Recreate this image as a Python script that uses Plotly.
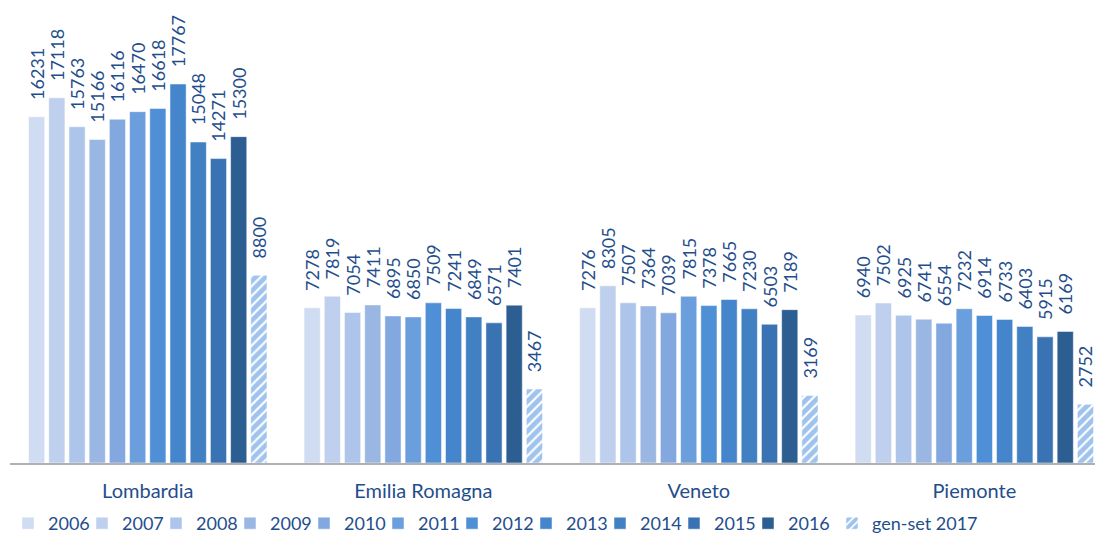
import plotly.graph_objects as go

regions = ["Lombardia", "Emilia Romagna", "Veneto", "Piemonte"]
series_names = ["2006", "2007", "2008", "2009", "2010", "2011", "2012",
                "2013", "2014", "2015", "2016", "gen-set 2017"]
values = {
    "2006": [16231, 7278, 7276, 6940],
    "2007": [17118, 7819, 8305, 7502],
    "2008": [15763, 7054, 7507, 6925],
    "2009": [15166, 7411, 7364, 6741],
    "2010": [16116, 6895, 7039, 6554],
    "2011": [16470, 6850, 7815, 7232],
    "2012": [16618, 7509, 7378, 6914],
    "2013": [17767, 7241, 7665, 6733],
    "2014": [15048, 6849, 7230, 6403],
    "2015": [14271, 6571, 6503, 5915],
    "2016": [15300, 7401, 7189, 6169],
    "gen-set 2017": [8800, 3467, 3169, 2752],
}
colors = ["#D0DCF1", "#BFD0EE", "#ADC5EA", "#9AB7E3", "#82A8DF", "#6A9EDD",
          "#4F8FD6", "#4585CB", "#4180C3", "#3A73B4", "#2D5E92", "#3F88DC"]

TXT = "#1F4E8C"
FONT = "Lato"
PAD = "\u00a0\u00a0\u00a0"

FIG_W, FIG_H = 1087, 534
M_L = 2
PLOT_W = FIG_W - M_L

# legend entry text start positions (page px), one legend per entry
legend_text_x = [48 + 74 * i for i in range(11)] + [872]

fig = go.Figure()
layout_legends = {}
for i, (name, col) in enumerate(zip(series_names, colors)):
    vals = values[name]
    hatched = name == "gen-set 2017"
    if hatched:
        marker = dict(color="white", line=dict(color="white", width=0.5),
                      pattern=dict(shape="/", fgcolor=col, bgcolor="white",
                                   size=7, solidity=0.7))
    else:
        marker = dict(color=col, line=dict(color="white", width=0.5))
    lkey = "legend" if i == 0 else f"legend{i + 1}"
    fig.add_trace(go.Bar(
        name=name, x=regions, y=vals, marker=marker,
        text=[PAD + str(v) for v in vals], textposition="outside",
        textangle=-90, constraintext="none",
        textfont=dict(color=TXT, size=18, family=FONT), cliponaxis=False,
        legend=lkey,
    ))
    layout_legends[lkey] = dict(
        orientation="h", x=(legend_text_x[i] - 40 - 8 - M_L) / PLOT_W,
        xanchor="left", y=-0.015, yref="container", yanchor="bottom",
        font=dict(size=18, color=TXT), itemwidth=30,
        bgcolor="rgba(0,0,0,0)")

fig.update_layout(
    width=FIG_W, height=FIG_H,
    barmode="group", bargap=0.12, bargroupgap=0.2,
    plot_bgcolor="white", paper_bgcolor="white",
    margin=dict(l=M_L, r=0, t=0, b=79),
    font=dict(family=FONT, color=TXT, size=16),
    xaxis=dict(range=[-0.5, 3.438], showline=True, linecolor="#B0B0B0",
               linewidth=2, ticks="", tickfont=dict(size=20, color=TXT),
               ticklabelstandoff=9),
    yaxis=dict(range=[0, 21330], visible=False, showgrid=False),
    showlegend=True,
    **layout_legends,
)

fig.write_html("out.html")
